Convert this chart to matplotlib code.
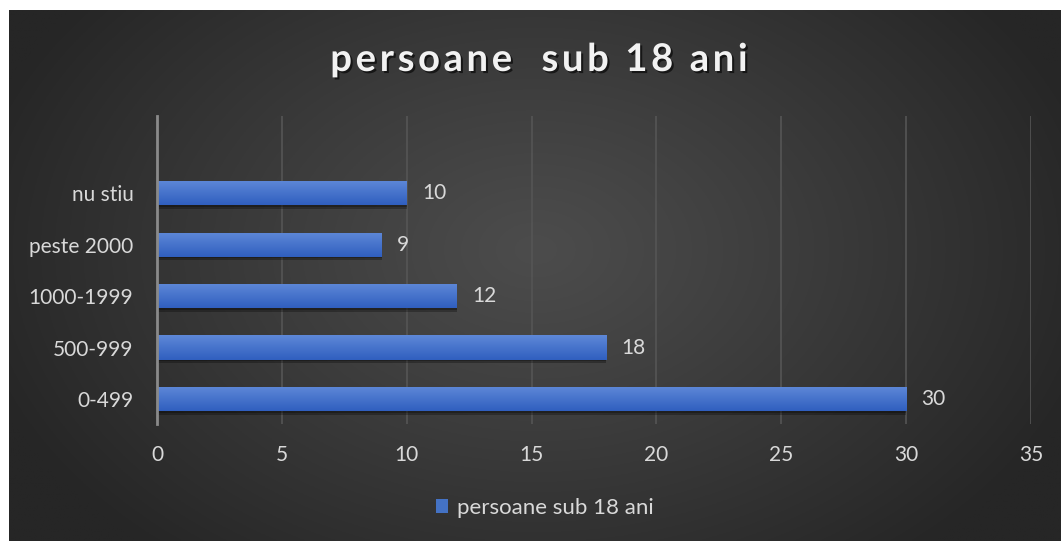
import numpy as np
import matplotlib
matplotlib.use("Agg")
import matplotlib.pyplot as plt
from matplotlib.patches import Patch
import matplotlib.patheffects as pe

categories = ["0-499", "500-999", "1000-1999", "peste 2000", "nu stiu"]
values = [30, 18, 12, 9, 10]
series_name = "persoane sub 18 ani"
title = "persoane  sub 18 ani"
x_ticks = [0, 5, 10, 15, 20, 25, 30, 35]

W, H = 1061, 541
fig = plt.figure(figsize=(W / 100, H / 100), dpi=100)
fig.patch.set_facecolor("white")

# background radial gradient
bg = fig.add_axes([9 / W, 0, 1 - 9 / W, 1 - 10 / H])
bg.set_axis_off()
ny, nx = 300, 600
yy, xx = np.mgrid[0:ny, 0:nx]
cx, cy = nx * 0.5, ny * 0.45
r = np.sqrt(((xx - cx) / (nx * 0.55)) ** 2 + ((yy - cy) / (ny * 0.75)) ** 2)
r = np.clip(r, 0, 1)
light, dark = 0x4c / 255, 0x26 / 255
g = light - (light - dark) * r ** 1.1
img = np.dstack([g, g, g])
bg.imshow(img, aspect="auto", extent=(0, 1, 0, 1), origin="upper")
bg.set_xlim(0, 1)
bg.set_ylim(0, 1)

ax = fig.add_axes([157 / W, 1 - 424 / H, (1031 - 157) / W, (424 - 116) / H])
ax.patch.set_alpha(0)
ypos = np.arange(len(categories))
bh = 0.47
bars = ax.barh(ypos, values, height=bh, color="#4a76cf", zorder=3,
               path_effects=[pe.SimplePatchShadow(offset=(0, -2.5), shadow_rgbFace="black", alpha=0.28),
                             pe.SimplePatchShadow(offset=(0, -1.2), shadow_rgbFace="black", alpha=0.25),
                             pe.Normal()])
grad = np.linspace(0, 1, 50).reshape(-1, 1)
top = np.array([0x5e, 0x88, 0xd8]) / 255
bot = np.array([0x30, 0x5f, 0xbf]) / 255
gimg = top[None, None, :] * (1 - grad[..., None]) + bot[None, None, :] * grad[..., None]
for b in bars:
    x0, y0, w, h = b.get_x(), b.get_y(), b.get_width(), b.get_height()
    im = ax.imshow(gimg, extent=(x0, x0 + w, y0, y0 + h), origin="upper", aspect="auto", zorder=4)
    im.set_clip_path(b)

for y, v in zip(ypos, values):
    ax.annotate(str(v), (v, y), xytext=(11, 0), textcoords="offset points",
                va="center", ha="left", color="#d9d9d9", fontsize=15, family="Lato", zorder=5)

ax.set_xlim(0, 35)
ax.set_ylim(-0.485, 5.5)
ax.set_xticks(x_ticks)
ax.set_yticks(ypos)
ax.set_yticklabels(categories)
ax.tick_params(axis="both", length=0, labelsize=15, labelcolor="#d9d9d9")
ax.tick_params(axis="x", pad=15)
ax.tick_params(axis="y", pad=17)
for lab in ax.get_xticklabels() + ax.get_yticklabels():
    lab.set_family("Lato")
for s in ["top", "right", "bottom"]:
    ax.spines[s].set_visible(False)
ax.spines["left"].set_color("#8a8a8a")
ax.spines["left"].set_linewidth(2)
ax.spines["left"].set_zorder(6)
ax.xaxis.grid(True, color="#555555", linewidth=1.2, zorder=1)
ax.set_axisbelow(True)

# title with letter spacing
renderer = fig.canvas.get_renderer()
fs = 27.5
track = 3.6
tprops = dict(fontsize=fs, fontweight="bold", family="Lato", color="#f2f2f2")
widths = []
for ch in title:
    if ch == " ":
        t = fig.text(0, 0, "a a", **tprops)
        t2 = fig.text(0, 0, "aa", **tprops)
        w = t.get_window_extent(renderer).width - t2.get_window_extent(renderer).width
        t.remove(); t2.remove()
    else:
        t = fig.text(0, 0, ch, **tprops)
        w = t.get_window_extent(renderer).width
        t.remove()
    widths.append(w)
total = sum(widths) + track * (len(title) - 1)
cxp = 539
x = cxp - total / 2
ybase = H - 71
for ch, w in zip(title, widths):
    if ch != " ":
        fig.text(x / W, ybase / H, ch, ha="left", va="baseline",
                 path_effects=[pe.SimplePatchShadow(offset=(1.5, -1.5), shadow_rgbFace="black", alpha=0.6),
                               pe.Normal()], **tprops)
    x += w + track

fig.legend([Patch(facecolor="#4472c4", edgecolor="none")], [series_name],
           loc="center", bbox_to_anchor=(545 / W, 1 - 508 / H), frameon=False,
           labelcolor="#d9d9d9", handlelength=0.55, handleheight=0.55,
           handletextpad=0.4, prop={"family": "Lato", "size": 16})

fig.savefig("out.png", dpi=100)
